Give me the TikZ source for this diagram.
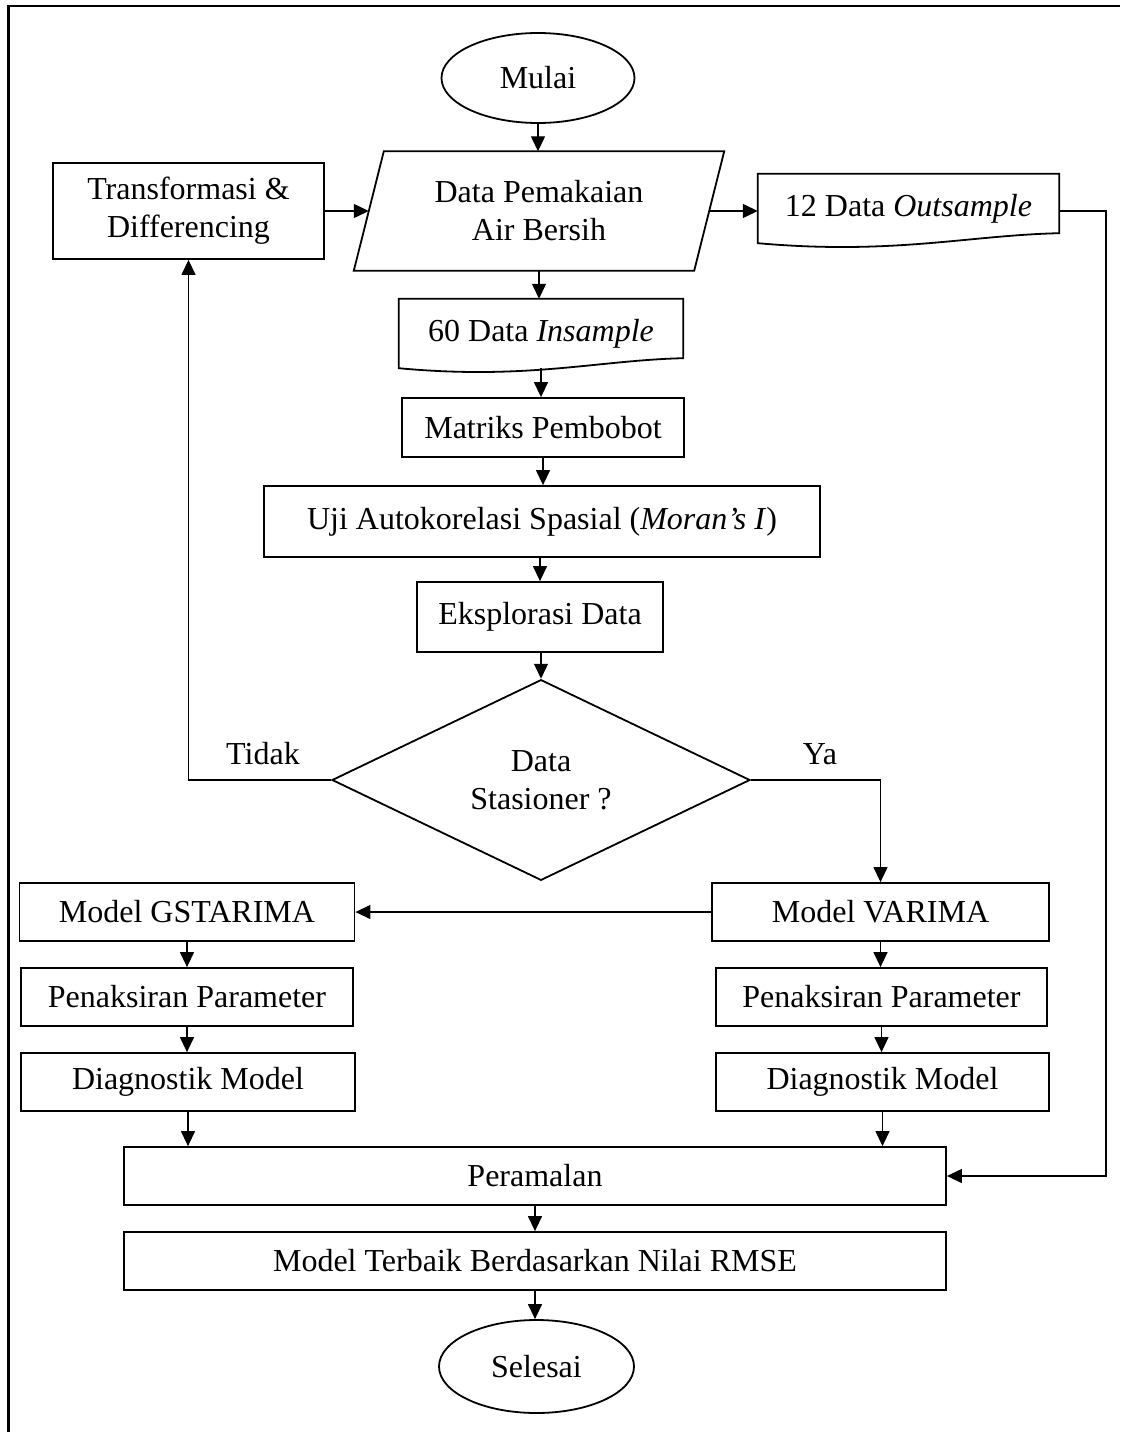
\documentclass[tikz,border=0pt]{standalone}
\usepackage{fontspec}
\setmainfont{Liberation Serif}
\usetikzlibrary{arrows.meta,shapes.geometric,calc}
\begin{document}
\begin{tikzpicture}[x=1pt,y=-1pt,
  font=\fontsize{32}{38}\selectfont,
  box/.style={draw, line width=1.8pt, rectangle, inner sep=0pt, align=center},
  plain/.style={draw=none, rectangle, inner sep=0pt, align=center},
  term/.style={draw, line width=1.8pt, ellipse, inner sep=0pt},
  shp/.style={line width=1.8pt},
  arr/.style={line width=1.3pt, -{Triangle[length=15pt,width=14pt]}},
]
\useasboundingbox (0,0) rectangle (1120,1432);
\draw[line width=2.5pt] (8.5,1432) -- (8.5,6) -- (1120,6);

% nodes
\node[term, minimum width=193pt, minimum height=90pt] (mulai) at (538,78) {Mulai};
\node[plain, minimum width=370pt, minimum height=119pt] (data) at (539,211) {Data Pemakaian\\Air Bersih};
\draw[shp] ($(data.north west)+(30,0)$) -- (data.north east) -- ($(data.south east)+(-30,0)$) -- (data.south west) -- cycle;
\node[box, minimum width=271pt, minimum height=96pt] (trans) at (188.5,211) {Transformasi \&\\Differencing};
\node[plain, minimum width=301pt, minimum height=69pt] (out) at (908.5,208.5) {12 Data \textit{Outsample}};
\draw[shp] (out.south west) -- (out.north west) -- (out.north east) -- ($(out.south east)+(0,-10)$)
  .. controls ($(out.south west)!0.7!(out.south east)+(0,-8)$) and ($(out.south west)!0.45!(out.south east)+(0,12)$) .. (out.south west) -- cycle;
\node[plain, minimum width=284pt, minimum height=69pt] (ins) at (541,333.5) {60 Data \textit{Insample}};
\draw[shp] (ins.south west) -- (ins.north west) -- (ins.north east) -- ($(ins.south east)+(0,-10)$)
  .. controls ($(ins.south west)!0.7!(ins.south east)+(0,-8)$) and ($(ins.south west)!0.45!(ins.south east)+(0,12)$) .. (ins.south west) -- cycle;
\node[box, minimum width=282pt, minimum height=59pt] (mat) at (543,427.5) {Matriks Pembobot};
\node[box, minimum width=556pt, minimum height=71pt] (uji) at (542,521.5) {Uji Autokorelasi Spasial (\textit{Moran’s I})};
\node[box, minimum width=246pt, minimum height=70pt] (eks) at (540,617) {Eksplorasi Data};
\node[diamond, draw, line width=1.8pt, inner sep=0pt, align=center, minimum width=418pt, minimum height=196pt] (dia) at (541,780) {Data\\Stasioner ?};
\node[anchor=base] (tidak) at (263,764) {Tidak};
\node[anchor=base] (ya) at (820,764) {Ya};
\node[box, minimum width=335pt, minimum height=58pt] (gst) at (187,912) {Model GSTARIMA};
\node[box, minimum width=337pt, minimum height=58pt] (var) at (880.5,912) {Model VARIMA};
\node[box, minimum width=332pt, minimum height=58pt] (penl) at (187,997) {Penaksiran Parameter};
\node[box, minimum width=331pt, minimum height=58pt] (penr) at (881.5,997) {Penaksiran Parameter};
\node[box, minimum width=334pt, minimum height=58pt] (diagl) at (188,1082) {Diagnostik Model};
\node[box, minimum width=333pt, minimum height=58pt] (diagr) at (882.5,1082) {Diagnostik Model};
\node[box, minimum width=822pt, minimum height=58pt] (per) at (535,1176) {Peramalan};
\node[box, minimum width=822pt, minimum height=58pt] (best) at (535,1261) {Model Terbaik Berdasarkan Nilai RMSE};
\node[term, minimum width=195pt, minimum height=93pt] (sel) at (536.5,1366.5) {Selesai};
\coordinate (oc) at (1106,211);

% connectors
\draw[arr] (mulai.south) -- (mulai.south |- data.north);
\draw[arr] (trans.east) -- ($(data.west)+(15,0)$);
\draw[arr] ($(data.east)+(-15,0)$) -- (data.east -| out.west);
\draw[arr] (data.south) -- (data.south |- ins.north);
\draw[arr] (ins.south) -- (ins.south |- mat.north);
\draw[arr] (mat.south) -- (mat.south |- uji.north);
\draw[arr] (eks.north |- uji.south) -- (eks.north);
\draw[arr] (dia.north |- eks.south) -- (dia.north);
\draw[arr] (dia.west) -- (dia.west -| trans.south) -- (trans.south);
\draw[arr] (dia.east) -| (var.north);
\draw[arr] (var.west) -- (gst.east);
\draw[arr] (gst.south) -- (gst.south |- penl.north);
\draw[arr] (penl.south) -- (penl.south |- diagl.north);
\draw[arr] (diagl.south) -- (diagl.south |- per.north);
\draw[arr] (var.south) -- (var.south |- penr.north);
\draw[arr] (penr.south) -- (penr.south |- diagr.north);
\draw[arr] (diagr.south) -- (diagr.south |- per.north);
\draw[arr] (out.east |- data.east) -- (oc) |- (per.east);
\draw[arr] (per.south) -- (per.south |- best.north);
\draw[arr] (best.south) -- (best.south |- sel.north);
\end{tikzpicture}
\end{document}
